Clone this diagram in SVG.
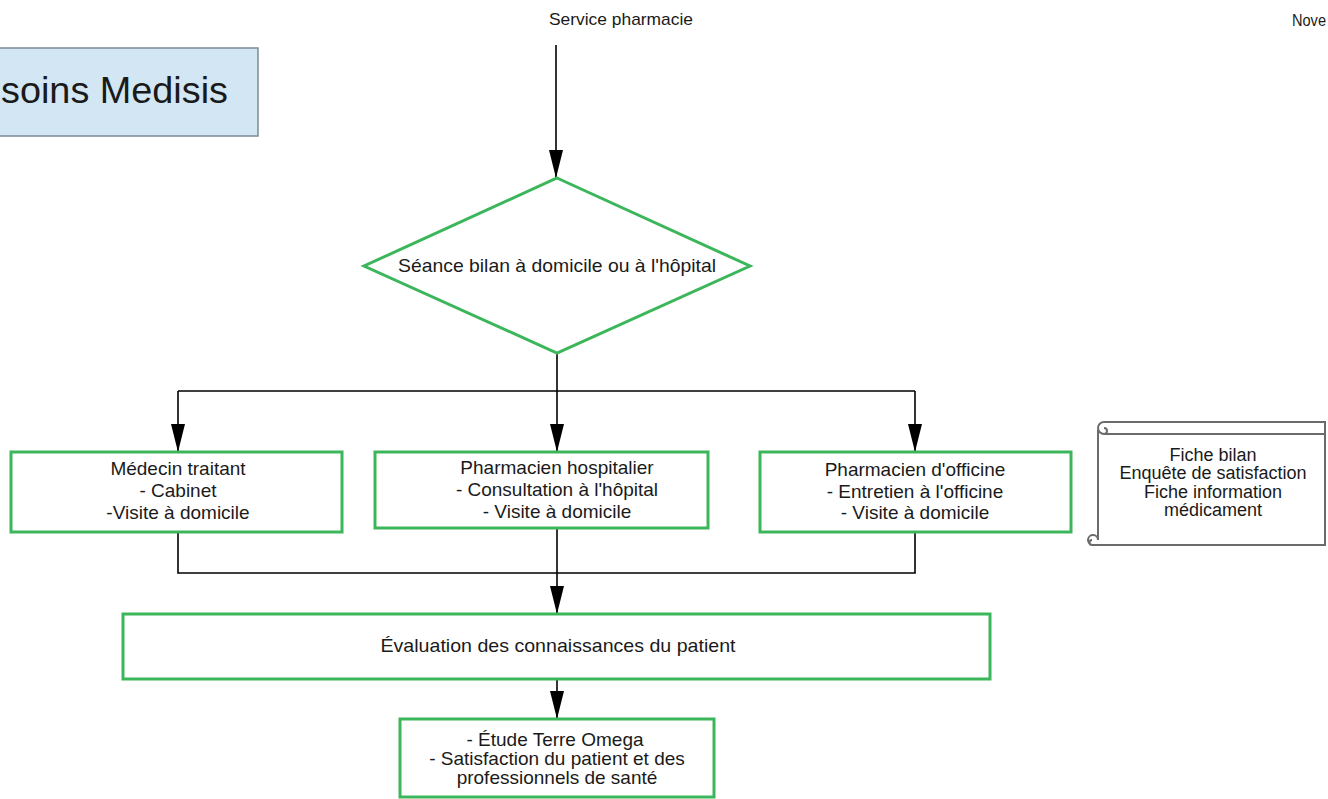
<svg xmlns="http://www.w3.org/2000/svg" width="1328" height="799" viewBox="0 0 1328 799">
<defs>
<style>
.t{font-family:"Liberation Sans",Arial,sans-serif;font-size:19px;fill:#1a1a1a;text-anchor:middle}
.g{fill:#fff;stroke:#3cb65a;stroke-width:3}
.c{fill:none;stroke:#000;stroke-width:1.6}
.s{fill:none;stroke:#6b6b6b;stroke-width:2}
</style>
<marker id="arr" viewBox="0 0 28 14" refX="28" refY="7" markerWidth="28" markerHeight="14" markerUnits="userSpaceOnUse" orient="auto">
<path d="M0,0 L28,7 L0,14 z" fill="#000"/>
</marker>
</defs>
<rect width="1328" height="799" fill="#fff"/>

<g id="title">
<rect x="-4" y="48" width="262" height="88" fill="#d2e6f4" stroke="#7d8a94" stroke-width="1.5"/>
<text x="1" y="103" style="font-family:'Liberation Sans',Arial,sans-serif;font-size:37px;fill:#1a1a1a" textLength="227" lengthAdjust="spacingAndGlyphs">soins Medisis</text>
</g>

<g id="header">
<text x="621" y="25" class="t" style="font-size:17px" textLength="144" lengthAdjust="spacingAndGlyphs">Service pharmacie</text>
<text x="1292" y="26" style="font-family:'Liberation Sans',Arial,sans-serif;font-size:16px;fill:#1a1a1a" textLength="34" lengthAdjust="spacingAndGlyphs">Nove</text>
</g>

<g id="connectors">
<path class="c" d="M556,45 V178" marker-end="url(#arr)"/>
<path class="c" d="M557,353 V391 M178,391 H915"/>
<path class="c" d="M178,391 V452" marker-end="url(#arr)"/>
<path class="c" d="M557,391 V452" marker-end="url(#arr)"/>
<path class="c" d="M915,391 V452" marker-end="url(#arr)"/>
<path class="c" d="M178,532 V573 H915 V532"/>
<path class="c" d="M557,528 V614" marker-end="url(#arr)"/>
<path class="c" d="M557,679 V719" marker-end="url(#arr)"/>
</g>

<g id="decision">
<polygon class="g" points="557,178 750,266 557,353 364,266"/>
<text x="557" y="272" class="t" textLength="318" lengthAdjust="spacingAndGlyphs">Séance bilan à domicile ou à l'hôpital</text>
</g>

<g id="medecin">
<rect class="g" x="11" y="452" width="331" height="80"/>
<text class="t"><tspan x="178" y="475">Médecin traitant</tspan><tspan x="178" y="497">- Cabinet</tspan><tspan x="178" y="519">-Visite à domicile</tspan></text>
</g>

<g id="pharma-hosp">
<rect class="g" x="375" y="452" width="333" height="76"/>
<text class="t"><tspan x="557" y="474">Pharmacien hospitalier</tspan><tspan x="557" y="496">- Consultation à l'hôpital</tspan><tspan x="557" y="518">- Visite à domicile</tspan></text>
</g>

<g id="pharma-off">
<rect class="g" x="760" y="452" width="311" height="80"/>
<text class="t"><tspan x="915" y="476">Pharmacien d'officine</tspan><tspan x="915" y="498">- Entretien à l'officine</tspan><tspan x="915" y="519">- Visite à domicile</tspan></text>
</g>

<g id="documents">
<path class="s" d="M1104,422 H1325 V545 H1092"/>
<path class="s" d="M1104,434 H1325"/>
<path class="s" d="M1098,430 V540"/>
<path class="s" d="M1104,422 A6,6 0 0 0 1104,434 M1104,434 A3,3 0 0 0 1104,428"/>
<path class="s" d="M1092,545 A5,5 0 1 1 1098,540 M1092,545 A2.5,2.5 0 0 1 1092,540"/>
<text class="t" style="font-size:18px"><tspan x="1213" y="461">Fiche bilan</tspan><tspan x="1213" y="479">Enquête de satisfaction</tspan><tspan x="1213" y="498">Fiche information</tspan><tspan x="1213" y="516">médicament</tspan></text>
</g>

<g id="evaluation">
<rect class="g" x="123" y="614" width="867" height="65"/>
<text x="558" y="652" class="t" textLength="355" lengthAdjust="spacingAndGlyphs">Évaluation des connaissances du patient</text>
</g>

<g id="etude">
<rect class="g" x="400" y="719" width="314" height="78"/>
<text class="t"><tspan x="555" y="746">- Étude Terre Omega</tspan><tspan x="557" y="765">- Satisfaction du patient et des</tspan><tspan x="557" y="784">professionnels de santé</tspan></text>
</g>
</svg>
